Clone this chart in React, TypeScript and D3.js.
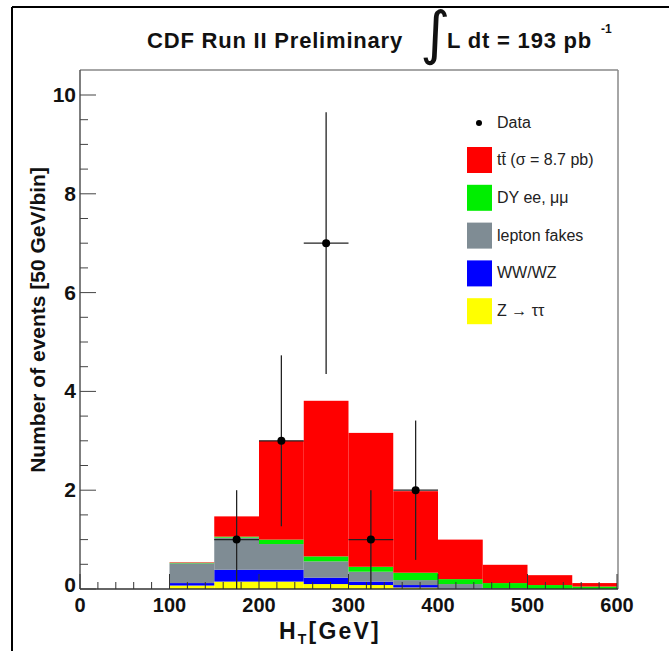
import React from "react";
import * as d3 from "d3";

// ---------- data ----------
const binEdges = [100, 150, 200, 250, 300, 350, 400, 450, 500, 550, 600];
const components = ["ztautau", "wwwz", "fakes", "dy", "ttbar"];
const ztautau = [0.07, 0.15, 0.15, 0.1, 0.08, 0.03, 0.0, 0.0, 0.0, 0.0];
const wwwz = [0.05, 0.24, 0.24, 0.13, 0.07, 0.05, 0.01, 0.0, 0.0, 0.0];
const fakes = [0.4, 0.65, 0.52, 0.33, 0.2, 0.1, 0.09, 0.02, 0.0, 0.0];
const dy = [0.01, 0.02, 0.09, 0.1, 0.1, 0.15, 0.1, 0.1, 0.08, 0.05];
const ttbar = [0.01, 0.41, 2.0, 3.15, 2.71, 1.65, 0.8, 0.37, 0.2, 0.07];

const dataX = [175, 225, 275, 325, 375];
const dataY = [1, 3, 7, 1, 2];
const dataErr = [1.0, 1.73, 2.65, 1.0, 1.41];

const xTicks = [0, 100, 200, 300, 400, 500, 600];
const yTicks = [0, 2, 4, 6, 8, 10];

const legendLabels = ["tt\u0304 (\u03c3 = 8.7 pb)", "DY ee, \u03bc\u03bc", "lepton fakes", "WW/WZ", "Z \u2192 \u03c4\u03c4"];
const legendKeys = ["ttbar", "dy", "fakes", "wwwz", "ztautau"];

const colors: Record<string, string> = {
  ztautau: "#ffff00",
  wwwz: "#0000ff",
  fakes: "#7f8c94",
  dy: "#00ee00",
  ttbar: "#ff0000",
};

export default function App() {
  const W = 669, H = 651;
  const x = d3.scaleLinear().domain([0, 600]).range([80, 617]);
  const y = d3.scaleLinear().domain([0, 10]).range([589, 95]);
  const frameTop = 70, frameRight = 618;

  const series: Record<string, number[]> = { ztautau, wwwz, fakes, dy, ttbar };
  const rows = binEdges.slice(0, -1).map((lo, i) => {
    const r: any = { lo, hi: binEdges[i + 1] };
    components.forEach((c) => (r[c] = series[c][i]));
    return r;
  });
  const stacked = d3.stack().keys(components)(rows as any);

  const xMinor = d3.range(0, 601, 20).filter((v) => v % 100 !== 0);
  const yMinor = d3.range(0, 10.01, 0.5).filter((v) => v % 2 !== 0);
  const font = "Liberation Sans, Arial, Helvetica, sans-serif";

  return (
    <svg width={W} height={H} style={{ position: "absolute", left: 0, top: 0, background: "#fff" }}>
      <rect x={0} y={0} width={W} height={H} fill="#fff" />
      {/* outer border */}
      <line x1={12} x2={W} y1={7} y2={7} stroke="#000" strokeWidth={2} />
      <line x1={12} x2={12} y1={7} y2={H} stroke="#000" strokeWidth={2} />

      {/* title */}
      <text x={147} y={48} fontFamily={font} fontWeight="bold" fontSize={22} fill="#111" letterSpacing={0.8}>
        CDF Run II Preliminary
      </text>
      <text x={420} y={53} fontFamily="DejaVu Sans, sans-serif" fontSize={58} fill="#111">∫</text>
      <text x={447} y={48} fontFamily={font} fontWeight="bold" fontSize={22} fill="#111" letterSpacing={0.8}>
        L dt = 193 pb
      </text>
      <text x={601} y={33} fontFamily={font} fontWeight="bold" fontSize={12} fill="#111">-1</text>

      {/* histogram stacks */}
      {stacked.map((s) => (
        <g key={s.key} fill={colors[s.key]}>
          {s.map((d: any, i: number) => (
            <rect
              key={i}
              x={x(d.data.lo)}
              width={x(d.data.hi) - x(d.data.lo)}
              y={y(d[1])}
              height={Math.max(0, y(d[0]) - y(d[1]))}
            />
          ))}
        </g>
      ))}

      {/* frame */}
      <line x1={80} x2={frameRight} y1={frameTop} y2={frameTop} stroke="#888" strokeWidth={1.5} />
      <line x1={frameRight} x2={frameRight} y1={frameTop} y2={589} stroke="#888" strokeWidth={1.5} />
      <line x1={80} x2={80} y1={frameTop} y2={589} stroke="#555" strokeWidth={1.5} />
      <line x1={80} x2={frameRight} y1={589} y2={589} stroke="#333" strokeWidth={1.5} />

      {/* x ticks */}
      {xTicks.map((t) => (
        <g key={"xt" + t}>
          <line x1={x(t)} x2={x(t)} y1={589} y2={574} stroke="#333" strokeWidth={1} />
          <text x={x(t)} y={612} textAnchor="middle" fontFamily={font} fontWeight="bold" fontSize={20} fill="#111">
            {t}
          </text>
        </g>
      ))}
      {xMinor.map((t) => (
        <line key={"xm" + t} x1={x(t)} x2={x(t)} y1={589} y2={582} stroke="#333" strokeWidth={1} />
      ))}

      {/* y ticks */}
      {yTicks.map((t) => (
        <g key={"yt" + t}>
          <line x1={80} x2={96} y1={y(t)} y2={y(t)} stroke="#444" strokeWidth={1} />
          <text x={76} y={y(t) + (t === 0 ? 3 : 7)} textAnchor="end" fontFamily={font} fontWeight="bold" fontSize={21} fill="#111">
            {t}
          </text>
        </g>
      ))}
      {yMinor.map((t) => (
        <line key={"ym" + t} x1={80} x2={88} y1={y(t)} y2={y(t)} stroke="#444" strokeWidth={1} />
      ))}

      {/* axis titles */}
      <text x={279} y={639} fontFamily={font} fontWeight="bold" fontSize={23} fill="#111" letterSpacing={2.2}>
        H<tspan fontSize={14} dy={5}>T</tspan><tspan dy={-5}>[GeV]</tspan>
      </text>
      <text
        transform={`translate(45, ${320}) rotate(-90)`}
        textAnchor="middle"
        fontFamily={font}
        fontWeight="bold"
        fontSize={21}
        fill="#111"
      >
        Number of events [50 GeV/bin]
      </text>

      {/* data points */}
      {dataX.map((dx, i) => (
        <g key={"d" + i} stroke="#222" strokeWidth={1.3}>
          <line x1={x(dx)} x2={x(dx)} y1={y(dataY[i] + dataErr[i])} y2={y(Math.max(0, dataY[i] - dataErr[i]))} />
          <line x1={x(dx - 25)} x2={x(dx + 25)} y1={y(dataY[i])} y2={y(dataY[i])} />
          <circle cx={x(dx)} cy={y(dataY[i])} r={4} fill="#000" stroke="none" />
        </g>
      ))}

      {/* legend */}
      <g>
        <circle cx={479} cy={123} r={3} fill="#000" />
        <text x={497} y={128} fontFamily={font} fontSize={16} fill="#222">Data</text>
        {legendKeys.map((k, i) => {
          const cy = 160 + i * 37.8;
          return (
            <g key={k}>
              <rect x={467} y={cy - 13} width={25} height={26} fill={colors[k]} />
              <text x={497} y={cy + 5} fontFamily={font} fontSize={16} fill="#222">
                {legendLabels[i]}
              </text>
            </g>
          );
        })}
      </g>
    </svg>
  );
}
